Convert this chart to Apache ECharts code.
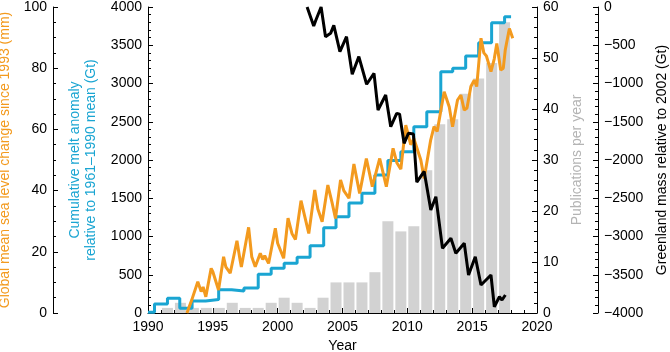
<!DOCTYPE html>
<html>
<head>
<meta charset="utf-8">
<script src="https://cdn.jsdelivr.net/npm/echarts@6/dist/echarts.min.js"></script>
<style>
  html, body { margin: 0; padding: 0; background: #fff; }
  #chart { width: 670px; height: 352px; }
</style>
</head>
<body>
<div id="chart"></div>
<script>
// publications per year (gray bars, right inner axis)
var pubYears  = [1990, 1991, 1992, 1993, 1994, 1995, 1996, 1997, 1998, 1999, 2000, 2001, 2002, 2003,
                 2004, 2005, 2006, 2007, 2008, 2009, 2010, 2011, 2012, 2013, 2014, 2015, 2016, 2017];
var pubCounts = [0, 1, 2, 1, 1, 1, 2, 1, 1, 2, 3, 2, 1, 3,
                 6, 6, 6, 8, 18, 16, 17, 28, 37, 38, 43, 46, 49, 57];

// cumulative melt anomaly (Gt), level reached after each melt season
var meltYears  = [1990.0, 1990.5, 1991.5, 1992.45, 1993.4, 1994.45, 1995.45, 1996.45, 1997.4, 1998.5, 1999.5,
                  2000.5, 2001.5, 2002.5, 2003.55, 2004.5, 2005.5, 2006.5, 2007.5, 2008.5, 2009.5,
                  2010.5, 2011.5, 2012.58, 2013.5, 2014.5, 2015.5, 2016.5, 2017.5, 2018.0];
var meltValues = [10, 118, 192, 61, 157, 175, 305, 288, 328, 505, 584,
                  650, 728, 880, 1113, 1257, 1438, 1565, 1804, 1995, 2108,
                  2435, 2631, 3154, 3198, 3359, 3533, 3794, 3873, 3873];

// global mean sea level change since 1993 (mm)
var seaYears  = [1993.0, 1993.37, 1993.84, 1994.1, 1994.25, 1994.46, 1994.87, 1995.0, 1995.44, 1995.83,
                 1996.0, 1996.34, 1996.86, 1997.1, 1997.2, 1997.76, 1998.0, 1998.27, 1998.66, 1998.85,
                 1999.0, 1999.3, 1999.82, 2000.0, 2000.46, 2000.8, 2001.1, 2001.37, 2001.8, 2002.4,
                 2002.86, 2003.1, 2003.43, 2003.87, 2004.2, 2004.46, 2004.85, 2005.1, 2005.5, 2005.88,
                 2006.32, 2006.84, 2007.3, 2007.87, 2008.38, 2008.9, 2009.2, 2009.5, 2009.88, 2010.26,
                 2010.5, 2011.04, 2011.3, 2011.8, 2012.06, 2012.3, 2012.84, 2013.23, 2013.49, 2013.87,
                 2014.13, 2014.39, 2014.6, 2014.9, 2015.16, 2015.35, 2015.68, 2015.9, 2016.1, 2016.45,
                 2016.7, 2016.9, 2017.2, 2017.4, 2017.55, 2017.87, 2018.13];
var seaLevels = [0, 4.2, 10.2, 7, 8.5, 5.3, 14.6, 13.5, 7.5, 18.4,
                 15.1, 13, 23.6, 17.3, 15, 28, 18.4, 15.1, 19.5, 17.5,
                 18.7, 16.2, 27.7, 22.8, 17.9, 31, 26, 24, 36.7, 26,
                 40.2, 34, 29.8, 41.8, 36, 30.9, 43.5, 40, 37.5, 48.7,
                 39.1, 50.5, 41.3, 50.5, 41.3, 53.8, 49, 47, 61.4, 55,
                 57, 50, 44, 56.5, 60.9, 59.3, 72.3, 67.4, 60.9, 69.6,
                 71.2, 66.3, 67, 74, 76.1, 74, 89.8, 85, 84, 78.9,
                 83, 88.1, 79.4, 80, 85.9, 93, 89.8];

// Greenland mass relative to 2002 (Gt)
var massYears  = [2002.27, 2002.78, 2002.95, 2003.35, 2003.69, 2004.08, 2004.33, 2004.8, 2005.31, 2005.75,
                  2006.26, 2006.86, 2007.43, 2007.74, 2008.33, 2008.72, 2009.18, 2009.4, 2009.75, 2010.08,
                  2010.47, 2010.73, 2011.3, 2011.81, 2012.2, 2012.71, 2013.36, 2013.74, 2014.39, 2014.72,
                  2015.24, 2015.68, 2016.45, 2016.71, 2017.1, 2017.3, 2017.56];
var massValues = [0, -248, -170, 0, -388, -344, -240, -584, -388, -878,
                  -649, -1010, -867, -1346, -1150, -1565, -1390, -1400, -1782, -1651,
                  -1660, -2290, -2150, -2654, -2480, -3154, -3024, -3220, -3089, -3503,
                  -3264, -3634, -3503, -3918, -3787, -3830, -3765];

var orange = '#f39a1e', blue = '#1aa5d2', gray = '#b4b4b4', ink = '#000';
var font = 'Liberation Sans, Arial, sans-serif';

function pairs(xs, ys) {
  var out = [];
  for (var i = 0; i < xs.length; i++) out.push([xs[i], ys[i]]);
  return out;
}
var barData = [];
for (var i = 0; i < pubYears.length; i++) barData.push([pubYears[i] + 0.5, pubCounts[i]]);

// plain numbers, real minus sign for negatives
function plain(v) { return v < 0 ? '\u2212' + Math.abs(v) : String(v); }

function yAxisBase(pos, offset, min, max, interval, split, nameText, nameColor, gap) {
  return {
    type: 'value', position: pos, offset: offset, min: min, max: max, interval: interval,
    name: nameText, nameLocation: 'middle', nameRotate: 90, nameGap: gap,
    nameTextStyle: { color: nameColor, fontFamily: font, fontSize: 14, lineHeight: 16 },
    axisLine: { show: true, lineStyle: { color: ink, width: 1 } },
    axisTick: { show: true, inside: true, length: 5, lineStyle: { color: ink } },
    minorTick: { show: true, splitNumber: split, length: 3, lineStyle: { color: ink } },
    axisLabel: { color: ink, fontFamily: font, fontSize: 14, margin: 6, formatter: plain },
    splitLine: { show: false }
  };
}

var chart = echarts.init(document.getElementById('chart'), null, { renderer: 'canvas' });
var option = {
  animation: false,
  backgroundColor: '#fff',
  grid: { left: 148, right: 133, top: 7, bottom: 39, containLabel: false, outerBoundsMode: 'none' },
  xAxis: {
    type: 'value', min: 1990, max: 2020, interval: 5,
    name: 'Year', nameLocation: 'middle', nameGap: 25,
    nameTextStyle: { color: ink, fontFamily: font, fontSize: 14 },
    axisLine: { lineStyle: { color: ink, width: 1 } },
    axisTick: { inside: true, length: 5, lineStyle: { color: ink } },
    minorTick: { show: true, splitNumber: 5, length: 3, lineStyle: { color: ink } },
    axisLabel: { color: ink, fontFamily: font, fontSize: 14, margin: 7, formatter: plain },
    splitLine: { show: false }
  },
  yAxis: [
    yAxisBase('left', 0, 0, 4000, 500, 5,
      'Cumulative melt anomaly\nrelative to 1961\u20131990 mean (Gt)', blue, 49),
    yAxisBase('left', 95, 0, 100, 20, 4,
      'Global mean sea level change since 1993 (mm)', orange, 38),
    yAxisBase('right', 0, 0, 60, 10, 5, 'Publications per year', gray, 31),
    yAxisBase('right', 61, -4000, 0, 500, 5, 'Greenland mass relative to 2002 (Gt)', ink, 56)
  ],
  series: [
    {
      name: 'Publications', type: 'bar', yAxisIndex: 2, barWidth: 11,
      itemStyle: { color: '#d2d2d2' }, data: barData
    },
    {
      name: 'Melt', type: 'line', yAxisIndex: 0, step: 'end', showSymbol: false,
      lineStyle: { color: blue, width: 3 }, data: pairs(meltYears, meltValues)
    },
    {
      name: 'Sea level', type: 'line', yAxisIndex: 1, showSymbol: false,
      lineStyle: { color: orange, width: 3 }, data: pairs(seaYears, seaLevels)
    },
    {
      name: 'Greenland mass', type: 'line', yAxisIndex: 3, showSymbol: false,
      lineStyle: { color: ink, width: 3 }, data: pairs(massYears, massValues)
    }
  ]
};
chart.setOption(option);
</script>
</body>
</html>
